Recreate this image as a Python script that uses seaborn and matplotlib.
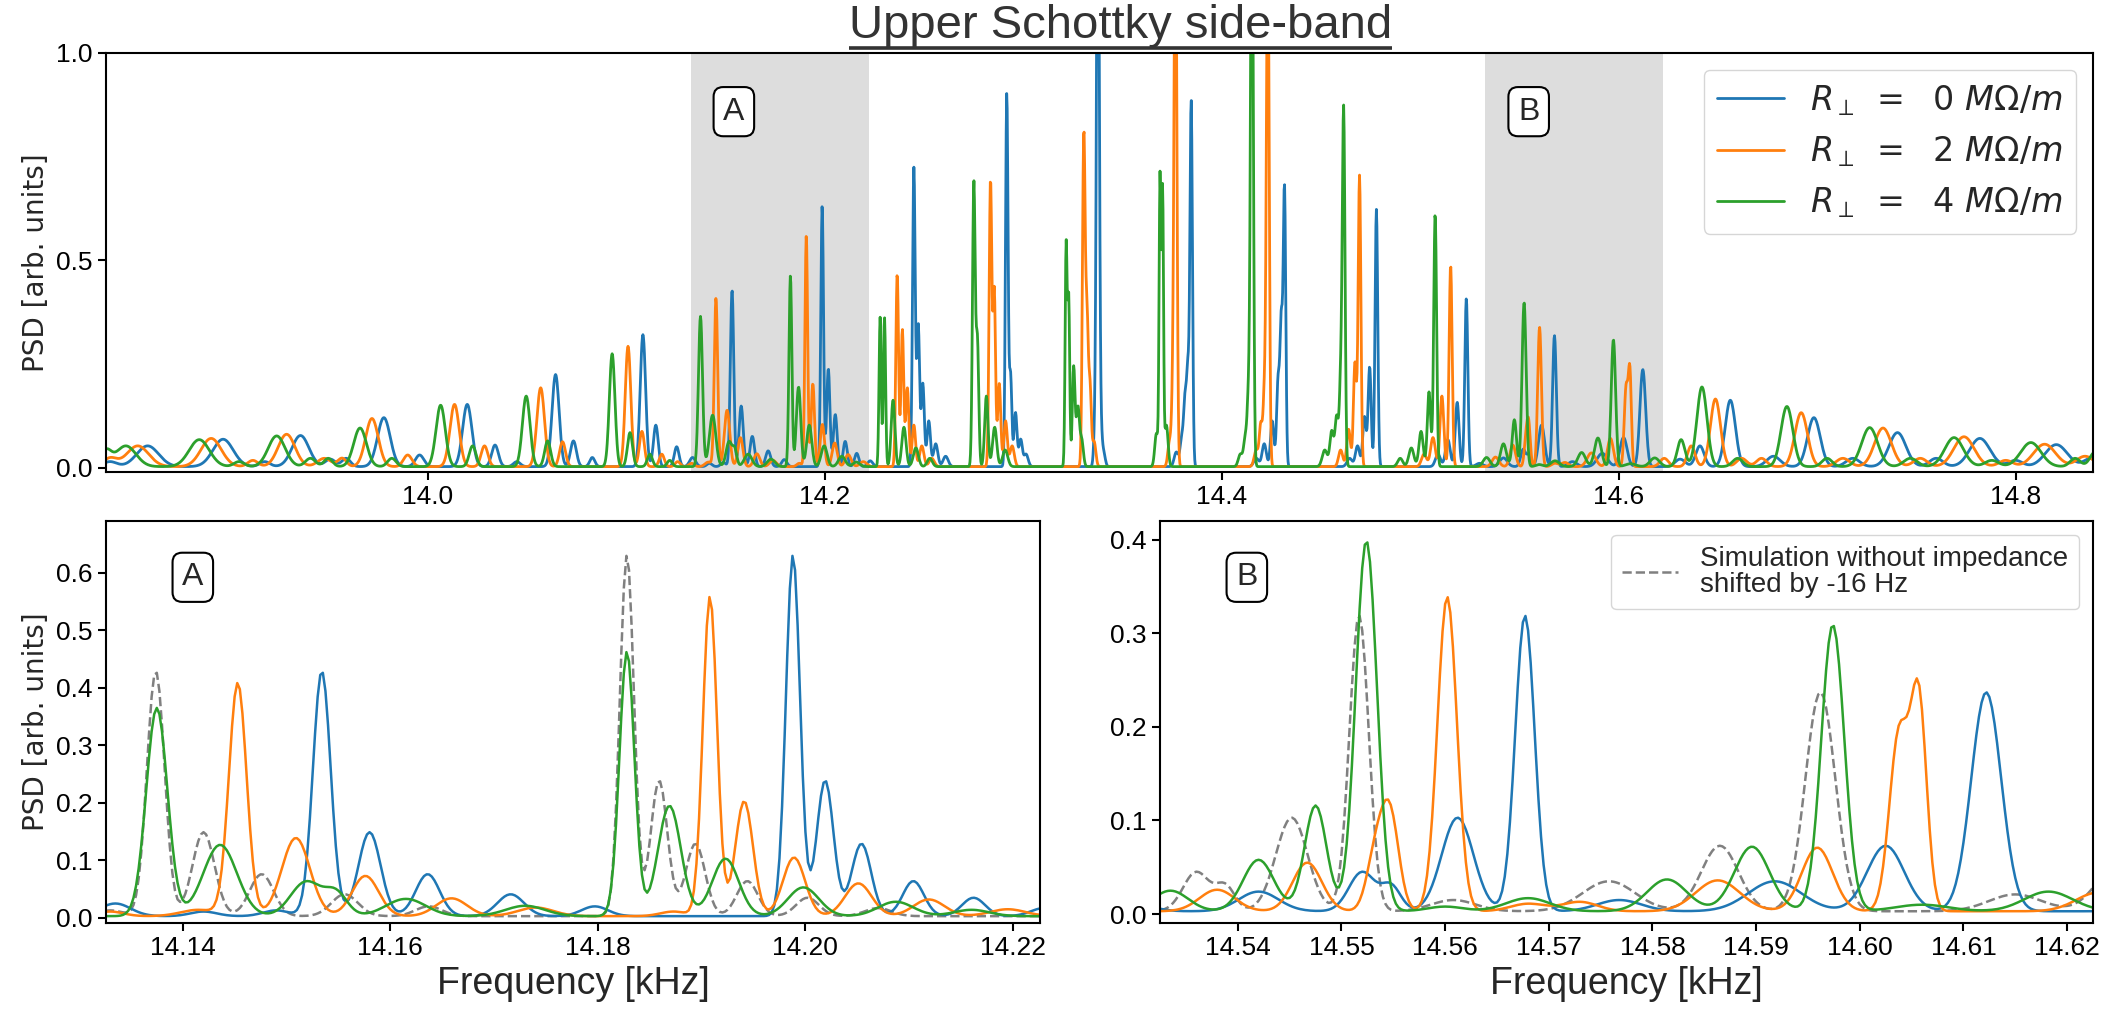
import numpy as np
import pandas as pd
import matplotlib
matplotlib.use("Agg")
import matplotlib.pyplot as plt
import matplotlib.ticker as mticker
import seaborn as sns
from matplotlib.lines import Line2D

# Spectral lines of the upper Schottky side-band for each impedance value:
# (centre frequency [kHz], peak PSD [arb. units], FWHM [kHz])
lines_r0 = [
    (13.840, 0.012, 0.008), (13.859, 0.050, 0.013), (13.897, 0.066, 0.012),
    (13.918, 0.012, 0.006), (13.936, 0.075, 0.010), (13.951, 0.018, 0.006),
    (13.959, 0.020, 0.005), (13.978, 0.118, 0.0075), (13.996, 0.028, 0.005),
    (14.020, 0.150, 0.0055), (14.034, 0.052, 0.004), (14.045, 0.012, 0.004),
    (14.0645, 0.222, 0.0042), (14.0735, 0.062, 0.0035), (14.083, 0.022, 0.003),
    (14.1085, 0.318, 0.0032), (14.1150, 0.100, 0.0028), (14.1255, 0.048, 0.0028),
    (14.1335, 0.022, 0.0035), (14.1420, 0.008, 0.003), (14.1490, 0.010, 0.003),
    (14.1534, 0.426, 0.0020), (14.1580, 0.146, 0.0025), (14.1636, 0.073, 0.0027),
    (14.1716, 0.038, 0.0030), (14.1797, 0.017, 0.0030),
    (14.1988, 0.628, 0.0016), (14.2019, 0.236, 0.0019), (14.2054, 0.126, 0.0022),
    (14.2104, 0.061, 0.0024), (14.2162, 0.032, 0.0026), (14.2230, 0.014, 0.0030),
    (14.2450, 0.720, 0.0016), (14.2472, 0.340, 0.0016), (14.2495, 0.200, 0.0018),
    (14.2525, 0.110, 0.0020), (14.2560, 0.055, 0.0025), (14.2610, 0.025, 0.0030),
    (14.2918, 0.900, 0.0015), (14.2937, 0.220, 0.0015), (14.2962, 0.130, 0.0018),
    (14.2988, 0.065, 0.0020), (14.3015, 0.030, 0.0025),
    (14.3362, 0.080, 0.0015), (14.3377, 1.600, 0.0016), (14.3392, 0.070, 0.0015),
    (14.3405, 0.035, 0.0020),
    (14.3772, 0.035, 0.0025), (14.3800, 0.070, 0.0020), (14.3816, 0.150, 0.0016),
    (14.3830, 0.220, 0.0015), (14.3847, 0.880, 0.0015),
    (14.4175, 0.020, 0.0030), (14.4215, 0.055, 0.0025), (14.4255, 0.110, 0.0020),
    (14.4285, 0.210, 0.0018), (14.4301, 0.330, 0.0015), (14.4317, 0.670, 0.0015),
    (14.4645, 0.020, 0.0030), (14.4685, 0.050, 0.0025), (14.4720, 0.120, 0.0020),
    (14.4746, 0.240, 0.0018), (14.4780, 0.620, 0.0016),
    (14.5090, 0.030, 0.0030), (14.5140, 0.065, 0.0028), (14.5187, 0.155, 0.0022),
    (14.5233, 0.405, 0.0018),
    (14.5300, 0.008, 0.0040), (14.5420, 0.021, 0.0045), (14.5520, 0.042, 0.0030),
    (14.5548, 0.026, 0.0022), (14.5612, 0.100, 0.0036), (14.5677, 0.316, 0.0022),
    (14.5768, 0.012, 0.0050), (14.5918, 0.032, 0.0060), (14.6025, 0.070, 0.0042),
    (14.6122, 0.234, 0.0034),
    (14.6310, 0.018, 0.0060), (14.6410, 0.050, 0.0050), (14.6563, 0.160, 0.0060),
    (14.6780, 0.025, 0.0080), (14.6984, 0.118, 0.0075), (14.7180, 0.020, 0.0080),
    (14.7405, 0.082, 0.0100), (14.7600, 0.020, 0.0080), (14.7820, 0.068, 0.0120),
    (14.8000, 0.015, 0.0080), (14.8205, 0.053, 0.0130), (14.8380, 0.020, 0.0080),
]

lines_r2 = [
    (13.840, 0.020, 0.008), (13.854, 0.050, 0.013), (13.891, 0.068, 0.012),
    (13.912, 0.015, 0.006), (13.929, 0.078, 0.010), (13.948, 0.020, 0.008),
    (13.957, 0.020, 0.005), (13.972, 0.116, 0.0075), (13.990, 0.028, 0.005),
    (14.0136, 0.150, 0.0055), (14.0287, 0.050, 0.004), (14.057, 0.190, 0.0045),
    (14.068, 0.060, 0.0035), (14.101, 0.290, 0.0033), (14.108, 0.085, 0.003),
    (14.118, 0.030, 0.003), (14.126, 0.012, 0.003),
    (14.1330, 0.008, 0.003), (14.1415, 0.011, 0.004),
    (14.1453, 0.405, 0.0020), (14.1509, 0.136, 0.0032), (14.1576, 0.070, 0.0030),
    (14.1659, 0.031, 0.0035), (14.1740, 0.015, 0.0040), (14.1873, 0.008, 0.003),
    (14.1908, 0.556, 0.0016), (14.1941, 0.200, 0.0020), (14.1989, 0.102, 0.0025),
    (14.2051, 0.057, 0.0030), (14.2119, 0.029, 0.0035), (14.2195, 0.012, 0.0040),
    (14.2366, 0.465, 0.0016), (14.2392, 0.330, 0.0016), (14.2417, 0.190, 0.0018),
    (14.2450, 0.100, 0.0020), (14.2490, 0.050, 0.0025), (14.2540, 0.020, 0.0030),
    (14.2836, 0.690, 0.0016), (14.2855, 0.420, 0.0015), (14.2880, 0.200, 0.0018),
    (14.2912, 0.110, 0.0020), (14.2945, 0.050, 0.0025),
    (14.3306, 0.800, 0.0016), (14.3322, 0.340, 0.0015), (14.3337, 0.190, 0.0016),
    (14.3358, 0.060, 0.0020),
    (14.3738, 0.060, 0.0020), (14.3755, 0.160, 0.0016), (14.3768, 1.400, 0.0016),
    (14.4175, 0.040, 0.0025), (14.4198, 0.100, 0.0018), (14.4216, 0.170, 0.0016),
    (14.4233, 1.300, 0.0016),
    (14.4600, 0.040, 0.0025), (14.4640, 0.090, 0.0022), (14.4672, 0.250, 0.0018),
    (14.4695, 0.700, 0.0016),
    (14.5020, 0.030, 0.0030), (14.5065, 0.070, 0.0028), (14.5110, 0.170, 0.0022),
    (14.5154, 0.485, 0.0018),
    (14.5380, 0.023, 0.0040), (14.5467, 0.052, 0.0033), (14.5533, 0.060, 0.0020),
    (14.5547, 0.100, 0.0020), (14.5602, 0.336, 0.0022), (14.5680, 0.008, 0.0040),
    (14.5730, 0.010, 0.0040), (14.5863, 0.033, 0.0050), (14.5959, 0.068, 0.0035),
    (14.6038, 0.190, 0.0022), (14.6057, 0.220, 0.0018), (14.6230, 0.020, 0.0050),
    (14.6366, 0.050, 0.0045), (14.6488, 0.163, 0.0060), (14.6620, 0.020, 0.0060),
    (14.6720, 0.020, 0.0060), (14.6920, 0.130, 0.0075), (14.7130, 0.020, 0.0080),
    (14.7332, 0.093, 0.0100), (14.7520, 0.020, 0.0080), (14.7740, 0.072, 0.0120),
    (14.7950, 0.015, 0.0080), (14.8146, 0.054, 0.0130), (14.8350, 0.025, 0.0100),
]

lines_r4 = [
    (13.838, 0.035, 0.006), (13.848, 0.050, 0.012), (13.885, 0.065, 0.012),
    (13.905, 0.012, 0.006), (13.924, 0.074, 0.010), (13.941, 0.020, 0.006),
    (13.950, 0.020, 0.005), (13.966, 0.093, 0.0075), (13.982, 0.020, 0.005),
    (14.0066, 0.148, 0.0055), (14.0227, 0.050, 0.004), (14.0497, 0.170, 0.0045),
    (14.0605, 0.062, 0.0035), (14.093, 0.272, 0.0033), (14.102, 0.082, 0.003),
    (14.112, 0.030, 0.003), (14.122, 0.015, 0.003),
    (14.1375, 0.362, 0.0024), (14.1436, 0.124, 0.0038), (14.1519, 0.060, 0.0035),
    (14.1548, 0.038, 0.0025), (14.1615, 0.030, 0.0045), (14.1730, 0.018, 0.0045),
    (14.1828, 0.460, 0.0017), (14.1869, 0.192, 0.0026), (14.1923, 0.100, 0.0030),
    (14.1998, 0.050, 0.0035), (14.2087, 0.025, 0.0040), (14.2160, 0.011, 0.0040),
    (14.2280, 0.360, 0.0013), (14.2302, 0.360, 0.0013), (14.2345, 0.160, 0.0022),
    (14.2400, 0.095, 0.0025), (14.2460, 0.045, 0.0030), (14.2530, 0.020, 0.0030),
    (14.2752, 0.680, 0.0016), (14.2770, 0.300, 0.0016), (14.2815, 0.170, 0.0020),
    (14.2857, 0.095, 0.0025), (14.2910, 0.040, 0.0030),
    (14.3217, 0.530, 0.0012), (14.3230, 0.400, 0.0012), (14.3255, 0.240, 0.0016),
    (14.3276, 0.140, 0.0018), (14.3295, 0.065, 0.0020),
    (14.3672, 0.080, 0.0020), (14.3690, 0.690, 0.0011), (14.3703, 0.660, 0.0011),
    (14.3722, 0.100, 0.0020),
    (14.4095, 0.030, 0.0025), (14.4120, 0.070, 0.0020), (14.4136, 0.160, 0.0016),
    (14.4153, 1.500, 0.0016),
    (14.4520, 0.040, 0.0030), (14.4555, 0.085, 0.0022), (14.4580, 0.120, 0.0020),
    (14.4600, 0.190, 0.0016), (14.4615, 0.855, 0.0016),
    (14.4900, 0.020, 0.0030), (14.4956, 0.045, 0.0030), (14.5005, 0.085, 0.0025),
    (14.5045, 0.180, 0.0020), (14.5076, 0.610, 0.0017),
    (14.5335, 0.022, 0.0040), (14.5420, 0.055, 0.0035), (14.5475, 0.113, 0.0025),
    (14.5524, 0.396, 0.0024), (14.5600, 0.005, 0.0040), (14.5680, 0.014, 0.0050),
    (14.5814, 0.034, 0.0045), (14.5896, 0.069, 0.0040), (14.5974, 0.306, 0.0026),
    (14.6060, 0.007, 0.0060), (14.6182, 0.021, 0.0055),
    (14.6315, 0.065, 0.0045), (14.6420, 0.192, 0.0060), (14.6600, 0.020, 0.0060),
    (14.6848, 0.145, 0.0070), (14.7050, 0.020, 0.0060), (14.7265, 0.094, 0.0095),
    (14.7470, 0.020, 0.0080), (14.7690, 0.070, 0.0110), (14.7880, 0.015, 0.0080),
    (14.8077, 0.058, 0.0120), (14.8300, 0.020, 0.0060), (14.8400, 0.035, 0.0060),
]

noise_floor = 0.003
sim_shift_khz = -0.016  # simulation without impedance, shifted by -16 Hz

series_labels = [r"$R_{\perp}\ =\ \ 0\ M\Omega/m$",
                 r"$R_{\perp}\ =\ \ 2\ M\Omega/m$",
                 r"$R_{\perp}\ =\ \ 4\ M\Omega/m$"]
series_colors = ["#1f77b4", "#ff7f0e", "#2ca02c"]
sim_label = "Simulation without impedance\nshifted by -16 Hz"

region_a = (14.1326, 14.2226)
region_b = (14.5325, 14.6225)

freq = np.arange(13.83, 14.86, 0.00025)


def spectrum(lines):
    f0, h, w = np.array(lines).T
    sigma = w / (2.0 * np.sqrt(2.0 * np.log(2.0)))
    return noise_floor + (h[None, :] * np.exp(-0.5 * ((freq[:, None] - f0[None, :]) / sigma[None, :]) ** 2)).sum(axis=1)


df = pd.concat([pd.DataFrame({"freq": freq, "psd": spectrum(l), "series": lab})
                for lab, l in zip(series_labels, [lines_r0, lines_r2, lines_r4])],
               ignore_index=True)
sim = pd.DataFrame({"freq": freq + sim_shift_khz, "psd": spectrum(lines_r0)})

sns.set_theme(style="ticks")
plt.rcParams["font.family"] = ["Liberation Sans", "DejaVu Sans"]
plt.rcParams["axes.edgecolor"] = "black"
plt.rcParams["axes.linewidth"] = 1.5
plt.rcParams["xtick.color"] = "black"
plt.rcParams["ytick.color"] = "black"

fig = plt.figure(figsize=(21.15, 10.23), dpi=100)
ax_top = fig.add_axes([0.0501, 0.5386, 0.9395, 0.4096])
ax_a = fig.add_axes([0.0501, 0.0977, 0.4416, 0.3930])
ax_b = fig.add_axes([0.5485, 0.0977, 0.4411, 0.3930])

box_style = dict(boxstyle="round,pad=0.3", fc="white", ec="black", lw=1.5)
ylabel_font = dict(fontsize=20, family="DejaVu Sans")

# --- overview panel ---
for lo, hi in (region_a, region_b):
    ax_top.axvspan(lo, hi, color="#dddddd", lw=0, zorder=0)
sns.lineplot(data=df, x="freq", y="psd", hue="series", palette=series_colors,
             estimator=None, sort=False, lw=2.0, ax=ax_top)
ax_top.set_xlim(13.838, 14.839)
ax_top.set_ylim(-0.01, 1.0)
ax_top.set_xticks([14.0, 14.2, 14.4, 14.6, 14.8])
ax_top.set_yticks([0.0, 0.5, 1.0])
ax_top.set_xlabel("")
ax_top.set_ylabel("PSD [arb. units]", **ylabel_font)
ax_top.yaxis.set_label_coords(-0.028, 0.5)
handles, labels = ax_top.get_legend_handles_labels()
ax_top.legend(handles, labels, loc="upper right", fontsize=24, handlelength=2.0,
              labelspacing=0.5, borderaxespad=0.5, fancybox=True, framealpha=0.8)
ax_top.text(0.316, 0.86, "A", transform=ax_top.transAxes, ha="center", va="center",
            fontsize=23, bbox=box_style, zorder=5)
ax_top.text(0.716, 0.86, "B", transform=ax_top.transAxes, ha="center", va="center",
            fontsize=23, bbox=box_style, zorder=5)

# --- zoomed panels ---
for ax, (lo, hi), tag, ylim, yt, xt in [
        (ax_a, region_a, "A", (-0.009, 0.69), np.arange(0, 0.61, 0.1), np.arange(14.14, 14.221, 0.02)),
        (ax_b, region_b, "B", (-0.0096, 0.42), np.arange(0, 0.41, 0.1), np.arange(14.54, 14.621, 0.01))]:
    sns.lineplot(data=sim, x="freq", y="psd", color="gray", linestyle="--", lw=1.8,
                 estimator=None, sort=False, ax=ax)
    sns.lineplot(data=df, x="freq", y="psd", hue="series", palette=series_colors,
                 estimator=None, sort=False, lw=1.8, ax=ax, legend=False)
    ax.set_xlim(lo, hi)
    ax.set_ylim(*ylim)
    ax.set_yticks(yt)
    ax.set_xticks(xt)
    ax.set_xlabel("Frequency [kHz]", fontsize=27)
    ax.set_ylabel("")
    ax.text(0.093, 0.86, tag, transform=ax.transAxes, ha="center", va="center",
            fontsize=23, bbox=box_style, zorder=5)

ax_a.set_ylabel("PSD [arb. units]", **ylabel_font)
ax_a.yaxis.set_label_coords(-0.060, 0.5)

sim_handle = Line2D([], [], color="gray", linestyle="--", lw=1.8)
leg_b = ax_b.legend([sim_handle], [sim_label], loc="upper right", fontsize=20,
                    handlelength=2.0, borderaxespad=0.5, fancybox=True, framealpha=0.8)
for t in leg_b.get_texts():
    t.set_linespacing(1.0)

for ax in (ax_top, ax_a, ax_b):
    ax.tick_params(axis="both", labelsize=19, length=6, width=1.5, colors="black")
    for sp in ax.spines.values():
        sp.set_color("black")
        sp.set_linewidth(1.5)
ax_top.xaxis.set_major_formatter(mticker.FormatStrFormatter("%.1f"))
ax_top.yaxis.set_major_formatter(mticker.FormatStrFormatter("%.1f"))
for ax in (ax_a, ax_b):
    ax.xaxis.set_major_formatter(mticker.FormatStrFormatter("%.2f"))
    ax.yaxis.set_major_formatter(mticker.FormatStrFormatter("%.1f"))

# Underlined heading
title = fig.text(0.5296, 0.9629, "Upper Schottky side-band", ha="center", va="baseline",
                 fontsize=34, color="#333333")
fig.canvas.draw()
bb = title.get_window_extent().transformed(fig.transFigure.inverted())
fig.add_artist(Line2D([bb.x0, bb.x1], [0.9531, 0.9531], transform=fig.transFigure,
                      color="#333333", lw=2.6, solid_capstyle="butt"))

fig.savefig("out.png", dpi=100)
